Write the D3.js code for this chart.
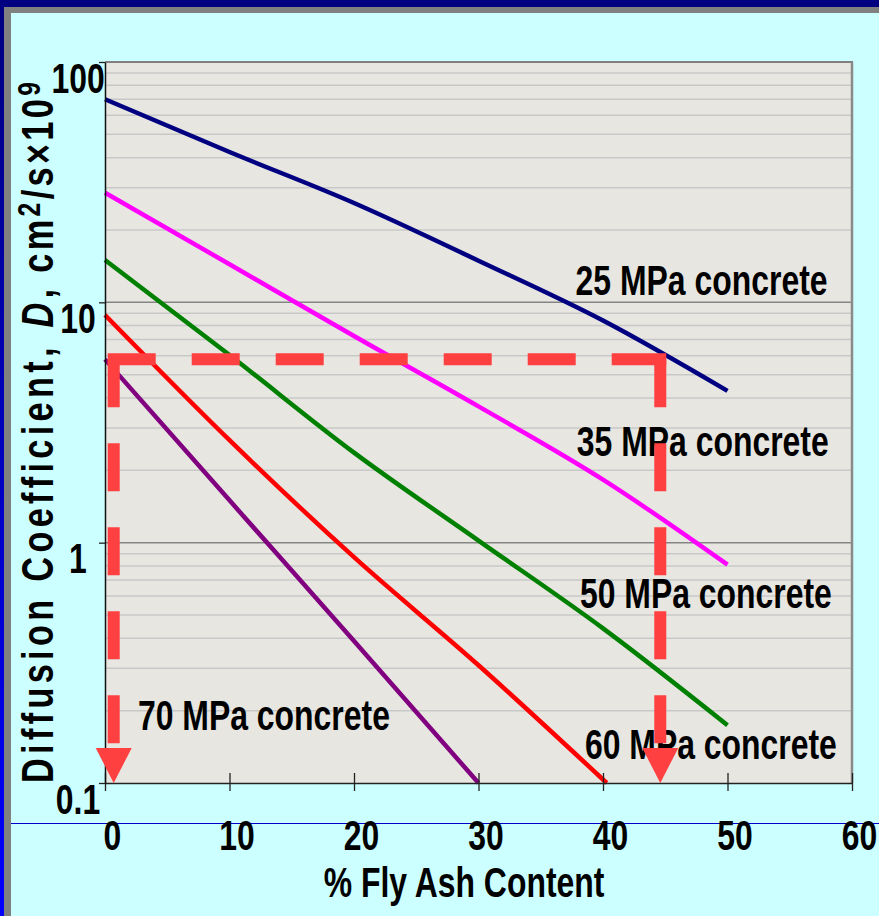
<!DOCTYPE html>
<html><head><meta charset="utf-8">
<script src="https://cdn.jsdelivr.net/npm/d3@7"></script>
<style>html,body{margin:0;padding:0;background:#ccffff;overflow:hidden} svg{display:block}</style>
</head><body>
<svg id="chart" width="879" height="916"></svg>
<script>
// ---------- data ----------
const flyAsh   = [0, 10, 20, 30, 40, 50];
const d25      = [70, 42.2, 25.9, 14.9, 8.4, 4.28];
const d35      = [28.6, 14.4, 7.24, 3.69, 1.83, 0.81];
const d50      = [15.0, 6.04, 2.37, 1.02, 0.44, 0.174];
const flyAsh60 = [0, 10, 20, 30, 40.3];
const d60      = [8.86, 2.67, 0.87, 0.309, 0.1];
const flyAsh70 = [0, 10, 20, 30];
const d70      = [5.79, 1.5, 0.39, 0.1];
const seriesNames = ["25 MPa concrete", "35 MPa concrete", "50 MPa concrete", "60 MPa concrete", "70 MPa concrete"];
const xTicks = [0, 10, 20, 30, 40, 50, 60];
const yTicks = [0.1, 1, 10, 100];
const yTickLabels = ["0.1", "1", "10", "100"];
const guideD = 5.8;            // D
const guideX = [0.7, 44.6];    // % fly ash where the guide drops

// ---------- layout / style ----------
const W = 879, H = 916;
const plot = {left: 105, right: 852, top: 62, bottom: 783};
const colors = ["#000080", "#ff00ff", "#008000", "#ff0000", "#800080"];
const guideColor = "#ff4040";
const FONT = "'Liberation Sans', Arial, sans-serif";
const CONDENSE = 0.76;
// label anchors in data coordinates (left edge of text, baseline)
const labelPos = [[37.8, 10.7], [37.9, 2.29], [38.15, 0.535], [38.55, 0.126], [2.65, 0.166]];

const svg = d3.select("#chart");
const x = d3.scaleLinear().domain([0, 60]).range([plot.left, plot.right]);
const y = d3.scaleLog().domain([0.1, 100]).range([plot.bottom, plot.top]);

// ---------- frame ----------
const defs = svg.append("defs");
const grad = defs.append("linearGradient").attr("id", "lg").attr("x1", 0).attr("x2", 0).attr("y1", 0).attr("y2", 1);
grad.append("stop").attr("offset", "0%").attr("stop-color", "#000080");
grad.append("stop").attr("offset", "100%").attr("stop-color", "#0000ff");

svg.append("rect").attr("width", W).attr("height", H).attr("fill", "#ccffff");
svg.append("rect").attr("x", 0).attr("y", 0).attr("width", W).attr("height", 7).attr("fill", "#000080");
svg.append("rect").attr("x", 4).attr("y", 7).attr("width", W - 4).attr("height", 6).attr("fill", "#808080");
svg.append("rect").attr("x", 0).attr("y", 0).attr("width", 4).attr("height", H).attr("fill", "url(#lg)");
svg.append("rect").attr("x", 4).attr("y", 7).attr("width", 7).attr("height", H - 7).attr("fill", "#808080");

// blue rule
svg.append("line").attr("x1", 11).attr("x2", W).attr("y1", 823.5).attr("y2", 823.5)
  .attr("stroke", "#0000cc").attr("stroke-width", 1).attr("shape-rendering", "crispEdges");

// plot background
svg.append("rect").attr("x", plot.left).attr("y", plot.top)
  .attr("width", plot.right - plot.left).attr("height", plot.bottom - plot.top).attr("fill", "#e7e6e0");

// grid
const minor = [];
[0.1, 1, 10].forEach(d => { for (let m = 2; m <= 9; m++) minor.push(m * d); });
svg.append("g").selectAll("line").data(minor).join("line")
  .attr("x1", plot.left).attr("x2", plot.right)
  .attr("y1", d => y(d)).attr("y2", d => y(d))
  .attr("stroke", "#c8c8c8").attr("stroke-width", 1.5);
svg.append("g").selectAll("line").data([1, 10]).join("line")
  .attr("x1", plot.left).attr("x2", plot.right)
  .attr("y1", d => y(d)).attr("y2", d => y(d))
  .attr("stroke", "#858585").attr("stroke-width", 1.5);
// top & right border
svg.append("line").attr("x1", plot.left).attr("x2", plot.right + 1).attr("y1", y(100)).attr("y2", y(100))
  .attr("stroke", "#808080").attr("stroke-width", 2);
svg.append("line").attr("x1", x(60)).attr("x2", x(60)).attr("y1", y(100)).attr("y2", y(0.1))
  .attr("stroke", "#8a8a8a").attr("stroke-width", 2.5);

// ---------- series ----------
const series = [
  {xs: flyAsh, ys: d25}, {xs: flyAsh, ys: d35}, {xs: flyAsh, ys: d50},
  {xs: flyAsh60, ys: d60}, {xs: flyAsh70, ys: d70}
];
const line = d3.line().x(d => x(d[0])).y(d => y(d[1])).curve(d3.curveMonotoneX);
svg.append("g").selectAll("path").data(series).join("path")
  .attr("d", s => line(s.xs.map((v, i) => [v, s.ys[i]])))
  .attr("fill", "none").attr("stroke", (s, i) => colors[i])
  .attr("stroke-width", 4.5).attr("stroke-linejoin", "round");

// ---------- axes ----------
const xAxis = svg.append("g").attr("transform", `translate(0,${y(0.1)})`)
  .call(d3.axisBottom(x).tickValues(xTicks).tickSizeInner(8).tickSizeOuter(0).tickFormat(d3.format("d")));
xAxis.select(".domain").attr("stroke", "#222").attr("stroke-width", 1.5);
xAxis.selectAll(".tick line").attr("y1", -10).attr("y2", 8).attr("stroke", "#222").attr("stroke-width", 1.3);
xAxis.selectAll(".tick text").attr("y", 0).attr("dy", null)
  .attr("transform", `translate(7,67) scale(${CONDENSE},1)`)
  .attr("font-size", 42).attr("font-weight", "bold").attr("fill", "#000");

const yAxis = svg.append("g").attr("transform", `translate(${x(0)},0)`)
  .call(d3.axisLeft(y).tickValues(yTicks).tickSize(6).tickSizeOuter(0).tickFormat((d, i) => yTickLabels[i]));
yAxis.select(".domain").attr("stroke", "#111").attr("stroke-width", 1.5);
yAxis.selectAll(".tick line").attr("stroke", "#222").attr("stroke-width", 1.3);
yAxis.selectAll(".tick text").attr("x", 0).attr("dy", null).attr("text-anchor", "middle")
  .attr("transform", `translate(-27,30) scale(${CONDENSE},1)`)
  .attr("font-size", 42).attr("font-weight", "bold").attr("fill", "#000");
svg.selectAll(".tick text").style("font-family", FONT);

// axis titles
svg.append("text")
  .attr("transform", `translate(464,897) scale(${CONDENSE},1)`)
  .attr("text-anchor", "middle").attr("font-family", FONT).attr("font-size", 42).attr("font-weight", "bold")
  .text("% Fly Ash Content");

const yt = svg.append("text")
  .attr("transform", "translate(53,783) rotate(-90) scale(0.88,1.14)")
  .attr("font-family", FONT).attr("font-size", 39).attr("font-weight", "bold");
yt.append("tspan").attr("letter-spacing", 4.9).text("Diffusion Coefficient, ");
yt.append("tspan").attr("letter-spacing", 4.9).attr("font-style", "italic").attr("dx", 2).text("D");
yt.append("tspan").attr("letter-spacing", 3.8).text(", cm");
yt.append("tspan").attr("letter-spacing", 3.8).attr("font-size", 28).attr("dy", -11).text("2");
yt.append("tspan").attr("letter-spacing", 3.8).attr("dy", 11).text("/s\u00d710");
yt.append("tspan").attr("font-size", 28).attr("dy", -11).text("9");

// ---------- series labels ----------
svg.append("g").selectAll("text").data(seriesNames).join("text")
  .attr("transform", (d, i) => `translate(${x(labelPos[i][0])},${y(labelPos[i][1])}) scale(${CONDENSE},1)`)
  .attr("font-family", FONT).attr("font-size", 42).attr("font-weight", "bold").attr("fill", "#000")
  .text(d => d);

// ---------- dashed guide with arrows ----------
const gy = y(guideD), dashW = 12, arrowH = 35, arrowW = 36;
const g = svg.append("g");
g.append("line").attr("x1", x(guideX[0]) - dashW / 2).attr("x2", x(guideX[1]) + dashW / 2)
  .attr("y1", gy).attr("y2", gy)
  .attr("stroke", guideColor).attr("stroke-width", dashW)
  .attr("stroke-dasharray", "48 36 48 36 48 36 48 36 48 36 48 36 60 36");
g.selectAll("line.v").data(guideX).join("line").attr("class", "v")
  .attr("x1", d => x(d)).attr("x2", d => x(d))
  .attr("y1", gy).attr("y2", y(0.1) - arrowH)
  .attr("stroke", guideColor).attr("stroke-width", dashW).attr("stroke-dasharray", "48 36");
g.selectAll("path").data(guideX).join("path")
  .attr("d", d => `M${x(d) - arrowW / 2},${y(0.1) - arrowH}L${x(d) + arrowW / 2},${y(0.1) - arrowH}L${x(d)},${y(0.1)}Z`)
  .attr("fill", guideColor);
</script>
</body></html>
